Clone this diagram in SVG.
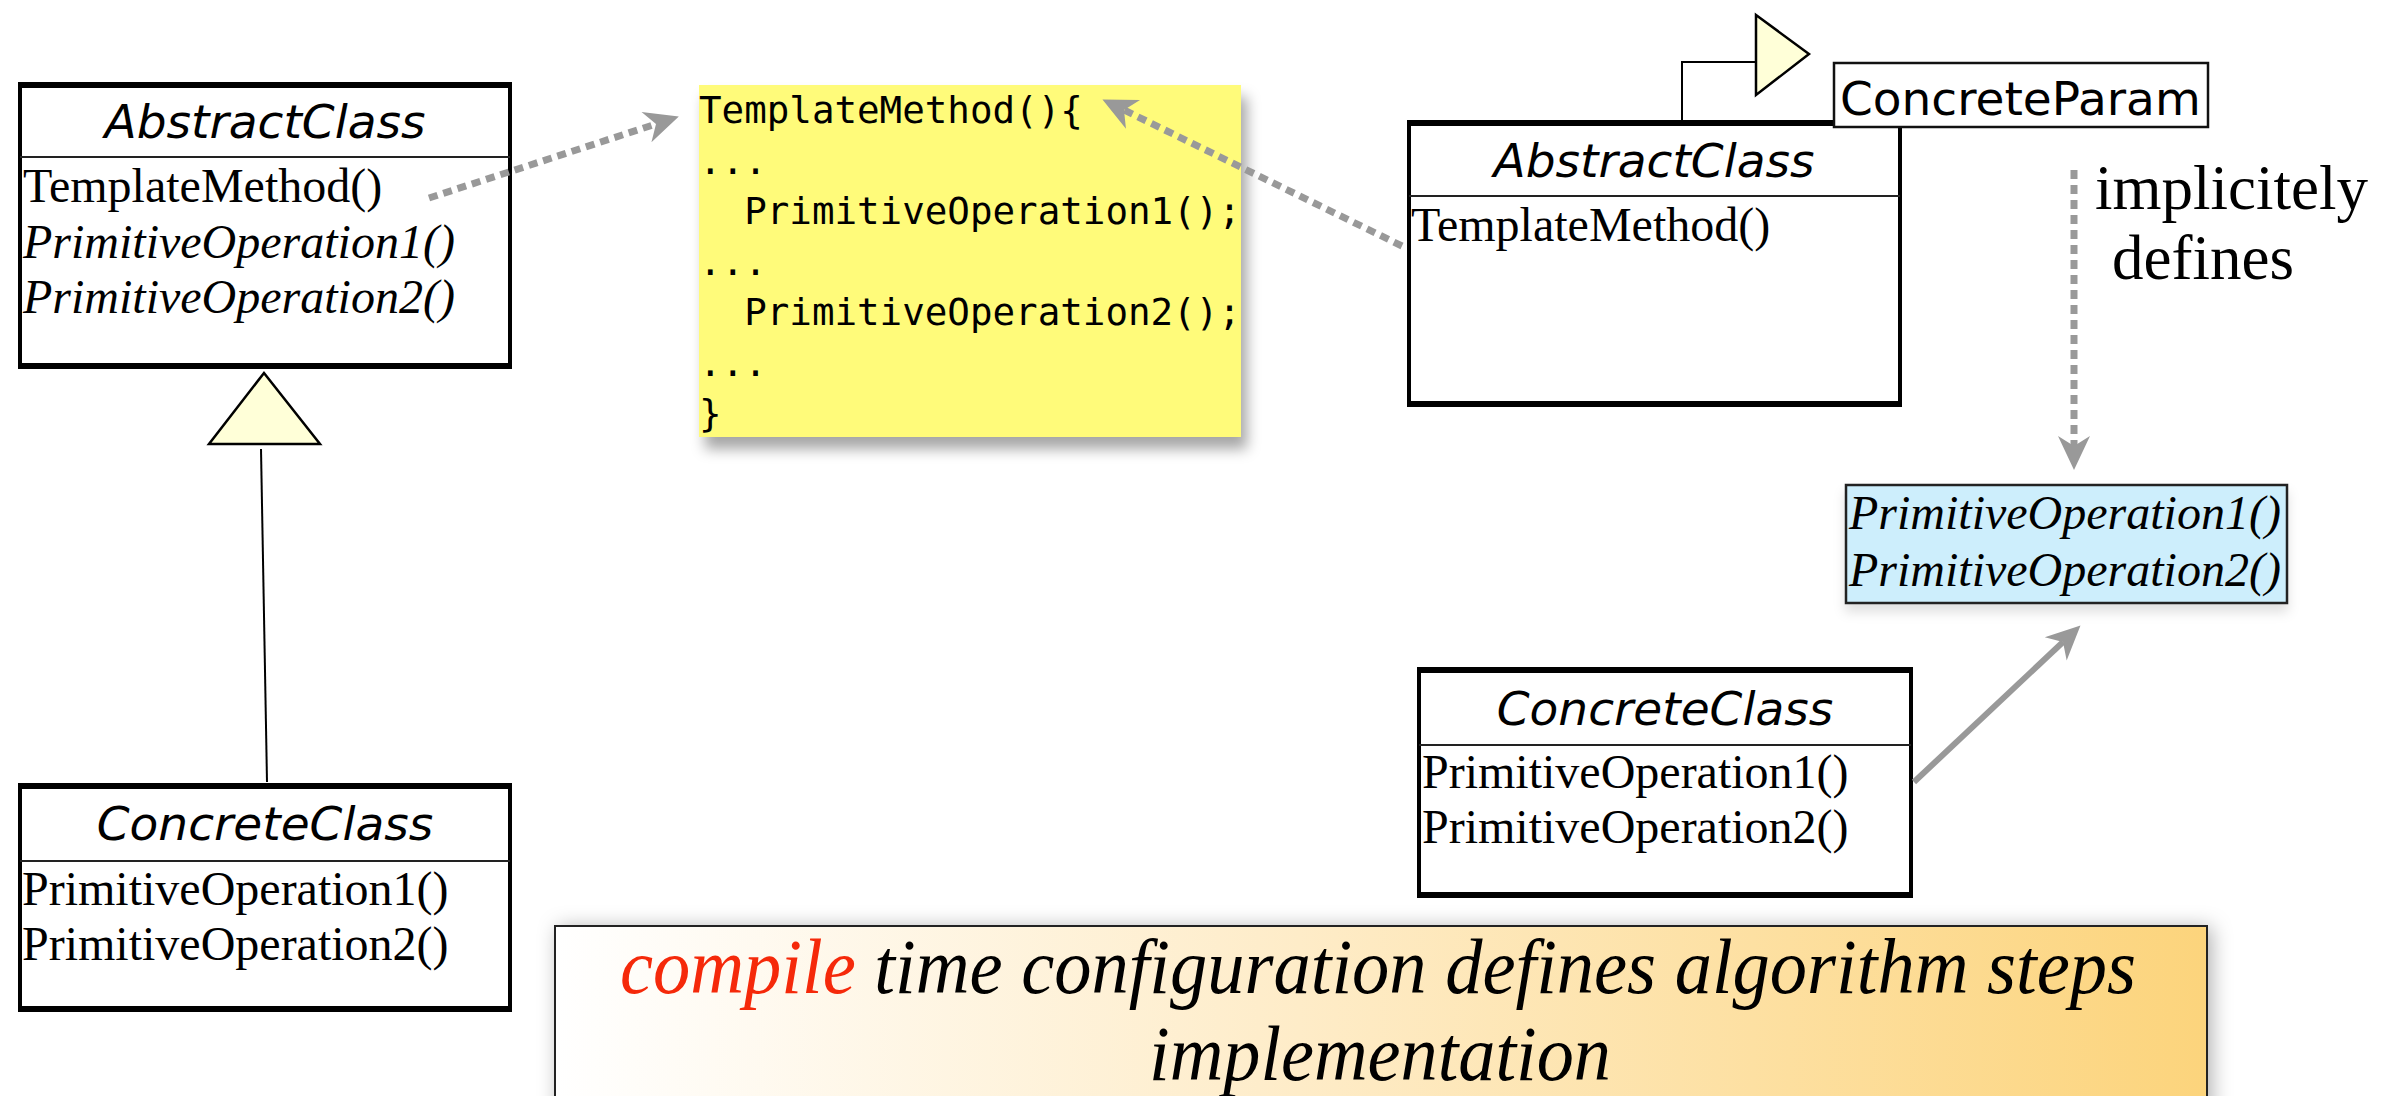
<svg xmlns="http://www.w3.org/2000/svg" width="2403" height="1096" viewBox="0 0 2403 1096">
<style>
.box{fill:#fff;stroke:#000;stroke-width:4}
.edge{stroke:#000;stroke-width:6}
.div{stroke:#222;stroke-width:2}
.cls{font-family:"DejaVu Sans",sans-serif;font-style:italic;font-size:47px;text-anchor:middle;fill:#000}
.op{font-family:"Liberation Serif",serif;font-size:48px;fill:#000}
.it{font-style:italic}
.code{font-family:"DejaVu Sans Mono",monospace;font-size:37.5px;fill:#000;white-space:pre}
.dash{fill:none;stroke:#999;stroke-width:7;stroke-dasharray:9 6}
.solid{fill:none;stroke:#999;stroke-width:6}
.thin{fill:none;stroke:#000;stroke-width:2}
.tri{fill:#ffffd8;stroke:#000;stroke-width:2.5;stroke-linejoin:miter}
.lbl{font-family:"Liberation Serif",serif;font-size:63px;fill:#000}
.banner{font-family:"Liberation Serif",serif;font-style:italic;font-size:78px;fill:#000;text-anchor:middle}
</style>
<defs>
<marker id="ah" viewBox="-12 -18 38 36" refX="0" refY="0" markerWidth="38" markerHeight="36" markerUnits="userSpaceOnUse" orient="auto">
<path d="M24,0 L-10,-16 L0,0 L-10,16 Z" fill="#999"/>
</marker>
<linearGradient id="bg" x1="0" y1="0" x2="1" y2="0">
<stop offset="0" stop-color="#ffffff"/>
<stop offset="0.45" stop-color="#feecc8"/>
<stop offset="1" stop-color="#fcd47c"/>
</linearGradient>
<filter id="sh" x="-10%" y="-10%" width="130%" height="140%">
<feDropShadow dx="6" dy="12" stdDeviation="7" flood-color="#000" flood-opacity="0.35"/>
</filter>
<filter id="sh2" x="-10%" y="-30%" width="130%" height="160%">
<feDropShadow dx="4" dy="2" stdDeviation="10" flood-color="#000" flood-opacity="0.3"/>
</filter>
<filter id="sh3" x="-10%" y="-20%" width="120%" height="160%">
<feDropShadow dx="0" dy="8" stdDeviation="6" flood-color="#000" flood-opacity="0.12"/>
</filter>
</defs>

<g id="abstract-left">
<rect class="box" x="20" y="85" width="490" height="281"/>
<line class="edge" x1="18" y1="85" x2="512" y2="85"/>
<line class="edge" x1="18" y1="366" x2="512" y2="366"/>
<line class="div" x1="20" y1="157" x2="510" y2="157"/>
<text class="cls" x="265" y="138">AbstractClass</text>
<text class="op" x="23" y="202">TemplateMethod()</text>
<text class="op it" x="23" y="258">PrimitiveOperation1()</text>
<text class="op it" x="23" y="313">PrimitiveOperation2()</text>
</g>

<g id="concrete-left">
<rect class="box" x="20" y="786" width="490" height="223"/>
<line class="edge" x1="18" y1="786" x2="512" y2="786"/>
<line class="edge" x1="18" y1="1009" x2="512" y2="1009"/>
<line class="div" x1="20" y1="861" x2="510" y2="861"/>
<text class="cls" x="265" y="840">ConcreteClass</text>
<text class="op" x="22" y="905">PrimitiveOperation1()</text>
<text class="op" x="22" y="960">PrimitiveOperation2()</text>
</g>

<g id="code-note">
<rect x="699" y="85" width="542" height="352" fill="#fffb7a" filter="url(#sh)"/>
<text class="code" x="699" y="123">TemplateMethod(){</text>
<text class="code" x="699" y="174">...</text>
<text class="code" x="699" y="224">  PrimitiveOperation1();</text>
<text class="code" x="699" y="275">...</text>
<text class="code" x="699" y="325">  PrimitiveOperation2();</text>
<text class="code" x="699" y="376">...</text>
<text class="code" x="699" y="426">}</text>
</g>

<g id="abstract-right">
<path class="thin" d="M1682,123 L1682,62 L1756,62"/>
<polygon class="tri" points="1756,15 1809,54 1756,95"/>
<rect class="box" x="1409" y="123" width="491" height="281"/>
<line class="edge" x1="1407" y1="123" x2="1902" y2="123"/>
<line class="edge" x1="1407" y1="404" x2="1902" y2="404"/>
<line class="div" x1="1409" y1="196" x2="1900" y2="196"/>
<text class="cls" x="1654" y="177">AbstractClass</text>
<text class="op" x="1411" y="241">TemplateMethod()</text>
</g>

<g id="concrete-param">
<rect x="1834" y="63" width="374" height="64" fill="#fff" stroke="#111" stroke-width="2.5"/>
<text x="1840" y="115" font-family="DejaVu Sans, sans-serif" font-size="47" fill="#000">ConcreteParam</text>
</g>

<g id="implicit-label">
<text class="lbl" x="2095" y="209">implicitely</text>
<text class="lbl" x="2112" y="279">defines</text>
</g>

<g id="primitive-ops">
<rect x="1846" y="485" width="441" height="118" fill="#cdeefc" stroke="#222" stroke-width="2.5" filter="url(#sh3)"/>
<text class="op it" x="1849" y="529">PrimitiveOperation1()</text>
<text class="op it" x="1849" y="586">PrimitiveOperation2()</text>
</g>

<g id="concrete-right">
<rect class="box" x="1419" y="670" width="492" height="225"/>
<line class="edge" x1="1417" y1="670" x2="1913" y2="670"/>
<line class="edge" x1="1417" y1="895" x2="1913" y2="895"/>
<line class="div" x1="1419" y1="745" x2="1911" y2="745"/>
<text class="cls" x="1665" y="725">ConcreteClass</text>
<text class="op" x="1422" y="788">PrimitiveOperation1()</text>
<text class="op" x="1422" y="843">PrimitiveOperation2()</text>
</g>

<g id="banner">
<rect x="555" y="926" width="1652" height="220" fill="url(#bg)" stroke="#222" stroke-width="2" filter="url(#sh2)"/>
<text class="banner" x="1378" y="993" textLength="1516" lengthAdjust="spacingAndGlyphs"><tspan fill="#f5290a">compile</tspan> time configuration defines algorithm steps</text>
<text class="banner" x="1380" y="1080" textLength="462" lengthAdjust="spacingAndGlyphs">implementation</text>
</g>

<g id="connectors">
<path class="dash" d="M429,198 L656,124" marker-end="url(#ah)"/>
<path class="dash" d="M1402,246 L1124,110" marker-end="url(#ah)"/>
<path class="dash" d="M2074,170 L2074,446" marker-end="url(#ah)"/>
<path class="solid" d="M1914,782 L2063,642" marker-end="url(#ah)"/>
<path class="thin" d="M261,449 L267,782"/>
<polygon id="gen-triangle" class="tri" points="264,373 320,444 209,444"/>
</g>
</svg>
